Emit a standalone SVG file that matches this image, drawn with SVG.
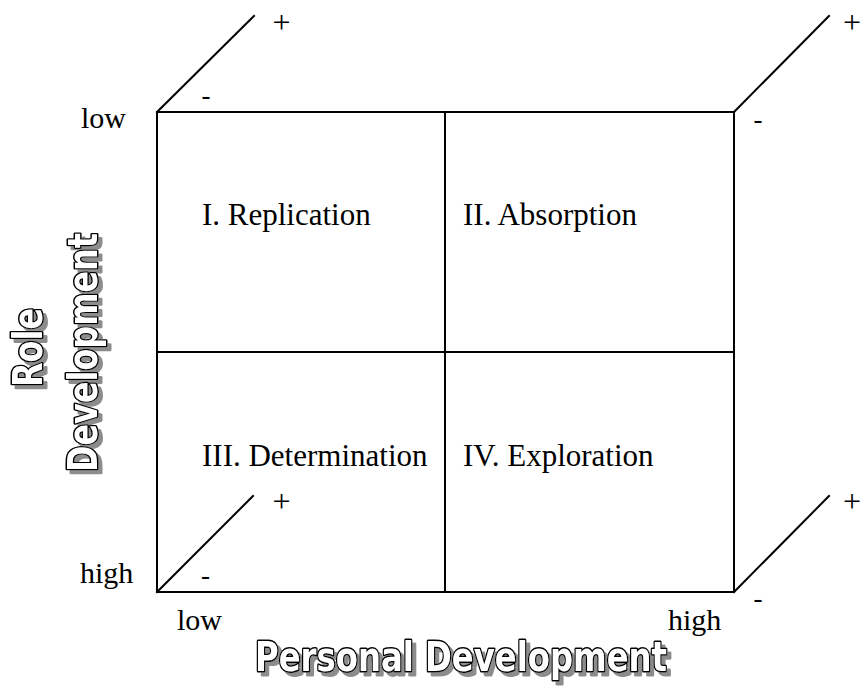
<svg xmlns="http://www.w3.org/2000/svg" width="862" height="687" viewBox="0 0 862 687">
<defs>
<filter id="shadow" x="-10%" y="-20%" width="130%" height="150%">
<feFlood flood-color="#8c8c8c" result="c"/>
<feComposite in="c" in2="SourceAlpha" operator="in" result="s"/>
<feOffset in="s" dx="4" dy="4" result="o"/>
<feMerge><feMergeNode in="o"/><feMergeNode in="SourceGraphic"/></feMerge>
</filter>
</defs>
<style>
.ln{stroke:#000;stroke-width:2;fill:none;stroke-linecap:square}
.q{font-family:"Liberation Serif","Times New Roman",serif;font-size:31px;fill:#000}
.ax{font-family:"Liberation Serif","Times New Roman",serif;font-size:30px;fill:#000}
.pl{font-family:"Liberation Serif","Times New Roman",serif;font-size:32px;fill:#000;text-anchor:middle}
.mn{font-family:"Liberation Serif","Times New Roman",serif;font-size:27px;fill:#000;text-anchor:middle}
.big{font-family:"DejaVu Sans","Liberation Sans",sans-serif;font-size:40px;font-weight:bold;fill:#fff;stroke:#000;stroke-width:3;paint-order:stroke;stroke-linejoin:round}
</style>
<rect width="862" height="687" fill="#fff"/>
<g id="grid">
<rect class="ln" x="157" y="112" width="577" height="480"/>
<line class="ln" x1="445" y1="112" x2="445" y2="592"/>
<line class="ln" x1="157" y1="352" x2="734" y2="352"/>
</g>
<g id="q1"><text class="q" x="202" y="225">I. Replication</text></g>
<g id="q2"><text class="q" x="463" y="225">II. Absorption</text></g>
<g id="q3"><text class="q" x="202" y="466">III. Determination</text></g>
<g id="q4"><text class="q" x="463" y="466">IV. Exploration</text></g>
<g id="connectors">
<line class="ln" x1="157" y1="112" x2="254" y2="16"/>
<line class="ln" x1="734" y1="112" x2="829" y2="16"/>
<line class="ln" x1="734" y1="592" x2="829" y2="496"/>
<line class="ln" x1="157" y1="592" x2="253" y2="496"/>
</g>
<g id="signs">
<text class="pl" x="281.5" y="33">+</text>
<text class="mn" x="206" y="104">-</text>
<text class="pl" x="852" y="33">+</text>
<text class="mn" x="758" y="128">-</text>
<text class="pl" x="852" y="512">+</text>
<text class="mn" x="758" y="607">-</text>
<text class="pl" x="281.5" y="512">+</text>
<text class="mn" x="205.5" y="584">-</text>
</g>
<g id="scale-labels">
<text class="ax" x="81" y="128">low</text>
<text class="ax" x="80" y="583">high</text>
<text class="ax" x="177" y="630">low</text>
<text class="ax" x="668" y="630">high</text>
</g>
<g id="x-axis-title" filter="url(#shadow)">
<text class="big" x="255" y="671" textLength="412" lengthAdjust="spacingAndGlyphs">Personal Development</text>
</g>
<g id="y-axis-title" filter="url(#shadow)">
<text class="big" transform="translate(42,347.5) rotate(-90)" x="0" y="0" text-anchor="middle" textLength="79" lengthAdjust="spacingAndGlyphs">Role</text>
<text class="big" transform="translate(97,352.5) rotate(-90)" x="0" y="0" text-anchor="middle" textLength="239" lengthAdjust="spacingAndGlyphs">Development</text>
</g>
</svg>
